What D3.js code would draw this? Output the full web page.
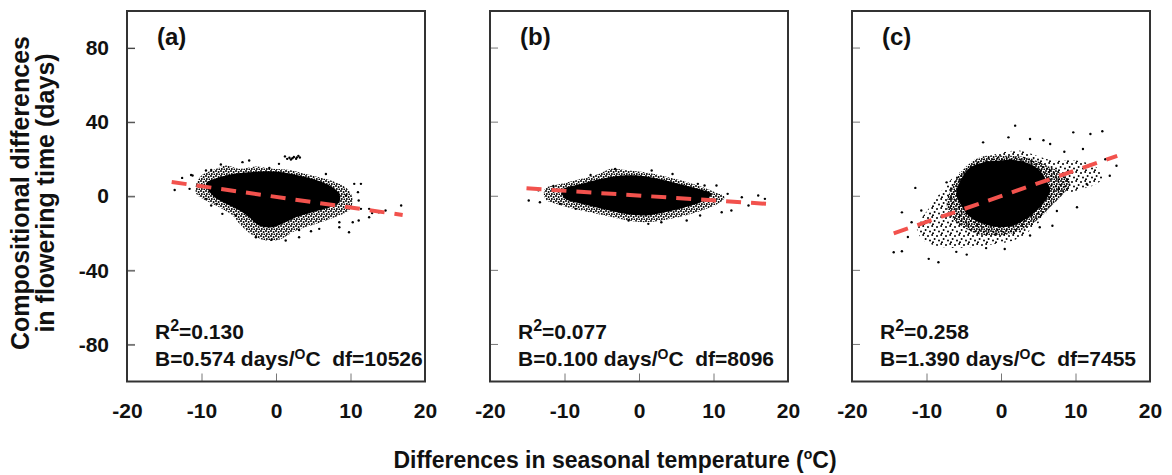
<!DOCTYPE html>
<html>
<head>
<meta charset="utf-8">
<script src="https://cdn.jsdelivr.net/npm/d3@7"></script>
<style>
  body { margin: 0; background: #fff; }
  text { font-family: "Liberation Sans", Arial, sans-serif; font-weight: bold; fill: #111; white-space: pre; }
</style>
</head>
<body>
<div id="chart"></div>
<script>
// three panels: flowering time difference vs seasonal temperature difference
var panelLabels = ["(a)", "(b)", "(c)"];
var r2Values = ["0.130", "0.077", "0.258"];
var slopeValues = ["0.574", "0.100", "1.390"];
var dfValues = ["10526", "8096", "7455"];
var xTicks = [-20, -10, 0, 10, 20];
var yTicks = [80, 40, 0, -40, -80];

// dashed regression lines, [x, y] end points
var fitA = [[-14, 7.7], [17, -10.1]];
var fitB = [[-15.1, 4.3], [17.1, -4.1]];
var fitC = [[-14.4, -20], [15.6, 21.8]];

// solid black core of each point cloud (outline)
var coreA = [[-9.4,6.7],[-7.6,10.2],[-5.8,12.0],[-3.6,12.9],[-1.3,13.5],[0.9,12.9],[3.1,11.2],[5.4,8.8],[7.2,5.8],[8.5,1.3],[8.5,-3.2],[7.2,-5.9],[4.9,-8.6],[2.7,-11.3],[1.3,-14.0],[-0.5,-16.7],[-2.3,-15.8],[-3.6,-11.3],[-4.9,-7.7],[-6.7,-4.1],[-8.5,0.4]];
var coreB = [[-10.4,3.1],[-7.7,6.7],[-5.0,9.4],[-2.3,11.2],[-0.1,11.2],[2.6,9.4],[5.3,6.7],[7.9,4.0],[9.7,1.3],[8.8,-2.3],[6.2,-5.9],[3.5,-8.6],[0.8,-10.4],[-1.9,-9.5],[-5.0,-6.8],[-7.7,-4.1],[-9.9,-1.4]];
var coreC = [[-6.0,1.3],[-5.2,10.2],[-4.1,15.6],[-2.3,18.3],[-0.1,19.3],[2.1,19.3],[3.9,17.4],[5.2,13.9],[6.1,8.5],[6.6,3.1],[6.1,-1.4],[4.8,-7.7],[3.4,-12.2],[1.7,-15.8],[-0.1,-16.7],[-2.3,-15.0],[-4.1,-11.3],[-5.2,-5.9]];

// dense speckled band around each core (outline)
var midA = [[-10.7,6.7],[-10.0,11.2],[-8.0,14.8],[-6.7,16.6],[-4.9,14.8],[-2.7,16.1],[-0.5,14.8],[1.8,14.2],[4.0,12.0],[6.7,9.3],[8.5,6.7],[9.8,3.1],[10.3,-2.3],[9.8,-7.7],[8.5,-10.4],[6.7,-13.1],[5.4,-14.9],[2.7,-18.5],[0.4,-23.5],[-1.3,-23.9],[-3.1,-21.2],[-4.9,-14.9],[-5.8,-10.4],[-7.6,-5.9],[-9.4,-2.3],[-10.7,1.3]];
var midB = [[-12.6,4.0],[-10.4,6.7],[-7.7,9.4],[-5.4,12.0],[-3.7,14.8],[-1.4,13.9],[0.8,13.0],[3.0,11.2],[5.7,8.5],[7.9,5.8],[10.2,2.2],[11.5,-0.5],[10.6,-4.1],[8.4,-7.7],[6.2,-10.4],[3.0,-13.1],[0.8,-14.0],[-1.4,-13.1],[-4.6,-10.4],[-7.7,-7.7],[-10.4,-5.0],[-12.6,-1.4]];
var midC = [[-7.3,-4.1],[-6.4,6.6],[-5.0,14.8],[-2.8,21.0],[0.3,21.9],[3.4,21.0],[5.7,17.4],[7.9,12.9],[9.3,7.5],[8.4,1.3],[6.6,-5.9],[4.8,-13.1],[2.6,-18.5],[-0.1,-21.2],[-3.2,-20.3],[-5.4,-15.8],[-6.8,-10.4]];

// sparse outer fringe of cloud (c)
var fringeC = [[-9.9,-7.7],[-8.6,-0.5],[-6.4,10.2],[-4.1,16.5],[-1.9,21.0],[0.3,23.7],[2.6,24.6],[4.8,21.9],[7.0,19.3],[10.2,19.3],[12.8,15.6],[13.7,10.2],[12.8,6.6],[10.2,3.1],[7.5,-0.5],[5.7,-11.3],[3.9,-18.5],[1.7,-23.9],[-0.6,-25.7],[-4.1,-27.5],[-7.7,-27.5],[-10.4,-23.9],[-11.3,-16.7]];

// isolated points outside the clouds
var pointsA = [[-13.6,3.4],[-12.6,9.9],[-11.4,11.5],[-11.6,4.0],[-7.4,17.1],[-8.7,14.2],[-0.9,15.3],[10.5,6.7],[11.4,6.7],[11.1,-2.3],[11.4,-6.8],[12.5,-11.3],[16.8,-5.0],[9.8,-19.4],[5.8,-17.6],[4.7,-18.9],[3.1,-18.2],[-2.7,-22.1],[-0.6,-23.5],[8.5,-14.0],[10.3,-14.0],[-5.4,-10.4],[-9.4,-1.4],[-8.7,-5.0],[12.9,-9.1],[11.1,-13.1],[12.5,-6.8],[-11.2,11.2],[-9.4,13.9],[-4.5,18.4],[-3.6,19.3],[0.4,17.5],[6.7,12.0],[9.4,0.4],[11.0,2.2],[13.8,-8.6],[14.7,-7.7],[8.5,-16.7],[3.1,-22.1],[1.3,-23.9],[-7.2,-9.5],[-8.0,-4.1],
  [1.2,21.5],[1.8,20.8],[2.4,21.2],[3.0,21.8],[2.0,19.8],[2.7,20.2],[1.5,20.2],[3.2,20.9],[2.2,20.5],[2.8,21.0]];
var pointsB = [[-14.8,-2.3],[-13.3,-3.2],[-13.5,3.2],[-10.6,-4.1],[-8.5,-6.8],[-3.2,14.8],[-1.4,-13.1],[1.25,-14.9],[3.0,-14.0],[6.4,-13.1],[7.9,6.7],[8.8,5.8],[10.4,5.8],[11.9,1.3],[12.4,-7.7],[13.8,-0.5],[16.0,0.4],[16.9,-1.4],[14.7,-5.0],[11.1,-8.6],[8.2,-10.4],[1.7,13.9],[-11.5,5.5],[-6.5,11.5],[4.5,12.0],[13.0,-3.0]];
var pointsC = [[-11.5,4.5],[-13.3,-8.7],[-14.4,-30.2],[-13.3,-29.7],[-9.7,-33.8],[-8.4,-35.6],[-4.6,-31.5],[1.9,38.1],[1.0,31.8],[-2.4,29.1],[3.9,30.9],[5.7,30.2],[6.6,28.2],[9.7,34.5],[12.0,33.6],[13.6,35.1],[15.5,16.5],[14.6,11.1],[11.5,6.6],[10.2,-5.9],[6.9,-15.9],[5.2,-16.7],[3.9,-21.2],[-7.3,7.5],[-10.7,-7.7],[-12.0,-14.0],[-6.0,-30.0],[-2.0,-28.0],[8.5,24.0],[11.0,25.5],[14.0,20.0],[-12.5,-22.0],[0.5,-28.5],[7.5,-8.0]];

var panels = [
  { core: coreA, mid: midA, fringe: null, pts: pointsA, fit: fitA },
  { core: coreB, mid: midB, fringe: null, pts: pointsB, fit: fitB },
  { core: coreC, mid: midC, fringe: fringeC, pts: pointsC, fit: fitC }
];

var W = 1172, H = 475;
var svg = d3.select("#chart").append("svg")
  .attr("width", W)
  .attr("height", H);

// dot textures standing in for overlapping points
var defs = svg.append("defs");
function dotPattern(id, size, spots) {
  var p = defs.append("pattern")
    .attr("id", id)
    .attr("patternUnits", "userSpaceOnUse")
    .attr("width", size).attr("height", size);
  spots.forEach(function (s) {
    p.append("circle").attr("cx", s[0]).attr("cy", s[1]).attr("r", 1).attr("fill", "#000");
  });
}
dotPattern("dense", 5, [[1, 1], [3.6, 2], [1.8, 3.9], [4.4, 4.4]]);
dotPattern("sparse", 9, [[1, 2], [5.2, 1], [7.6, 5], [3, 6.6], [6, 8.2]]);

var panelLeft = [127, 490, 852];
var pw = 298, plotTop = 11, ph = 370.5;

var yScale = d3.scaleLinear().domain([-100, 100]).range([plotTop + ph, plotTop]);

panels.forEach(function (p, i) {
  var x0 = panelLeft[i];
  var xScale = d3.scaleLinear().domain([-20, 20]).range([x0, x0 + pw]);
  var g = svg.append("g");

  var area = d3.line()
    .x(function (d) { return xScale(d[0]); })
    .y(function (d) { return yScale(d[1]); })
    .curve(d3.curveCatmullRomClosed);

  if (p.fringe) g.append("path").datum(p.fringe).attr("d", area).attr("fill", "url(#sparse)");
  g.append("path").datum(p.mid).attr("d", area).attr("fill", "url(#dense)");
  g.append("path").datum(p.core).attr("d", area).attr("fill", "#000");

  g.selectAll("circle.pt")
    .data(p.pts)
    .enter()
    .append("circle")
    .attr("class", "pt")
    .attr("cx", function (d) { return xScale(d[0]); })
    .attr("cy", function (d) { return yScale(d[1]); })
    .attr("r", 1.2)
    .attr("fill", "#000");

  // regression line
  g.append("line")
    .attr("x1", xScale(p.fit[0][0])).attr("y1", yScale(p.fit[0][1]))
    .attr("x2", xScale(p.fit[1][0])).attr("y2", yScale(p.fit[1][1]))
    .attr("stroke", "#f2524d")
    .attr("stroke-width", 4)
    .attr("stroke-dasharray", "15,10");

  // axes, ticks pointing inwards
  var xAxis = g.append("g")
    .attr("transform", "translate(0," + (plotTop + ph) + ")")
    .call(d3.axisBottom(xScale).tickValues(xTicks).tickFormat(function (d) { return String(d); })
      .tickSizeInner(-8).tickSizeOuter(0).tickPadding(22));
  xAxis.select(".domain").remove();
  xAxis.selectAll("line").attr("stroke", "#777");
  xAxis.selectAll("text").style("font-size", "21px").attr("fill", "#111");

  if (i === 0) {
    var yAxis = g.append("g")
      .attr("transform", "translate(" + x0 + ",0)")
      .call(d3.axisLeft(yScale).tickValues(yTicks).tickFormat(function (d) { return String(d); })
        .tickSizeInner(-8).tickSizeOuter(0).tickPadding(18));
    yAxis.select(".domain").remove();
    yAxis.selectAll("text").style("font-size", "21px").attr("fill", "#111");
  }
  // small inward ticks on the left of every panel
  g.selectAll("line.yt")
    .data(yTicks)
    .enter()
    .append("line")
    .attr("class", "yt")
    .attr("x1", x0).attr("x2", x0 + 8)
    .attr("y1", function (d) { return yScale(d); })
    .attr("y2", function (d) { return yScale(d); })
    .attr("stroke", "#777");

  g.append("rect")
    .attr("x", x0).attr("y", plotTop)
    .attr("width", pw).attr("height", ph)
    .attr("fill", "none")
    .attr("stroke", "#333")
    .attr("stroke-width", 2);

  g.append("text")
    .attr("x", x0 + 30).attr("y", 45)
    .style("font-size", "24px")
    .text(panelLabels[i]);

  var r2 = g.append("text")
    .attr("x", x0 + 28).attr("y", 339)
    .style("font-size", "21px");
  r2.append("tspan").text("R");
  r2.append("tspan").attr("dy", -8).style("font-size", "16px").text("2");
  r2.append("tspan").attr("dy", 8).text("=" + r2Values[i]);

  var bt = g.append("text")
    .attr("x", x0 + 28).attr("y", 366)
    .style("font-size", "21px");
  bt.append("tspan").text("B=" + slopeValues[i] + " days/");
  bt.append("tspan").attr("dy", -7).style("font-size", "14px").text("O");
  bt.append("tspan").attr("dy", 7).text("C  df=" + dfValues[i]);
});

// axis titles
var yt = svg.append("text")
  .attr("transform", "translate(29,193) rotate(-90)")
  .attr("text-anchor", "middle")
  .style("font-size", "25px");
yt.append("tspan").attr("x", 0).attr("y", 0).text("Compositional differences");
yt.append("tspan").attr("x", 0).attr("y", 25).text("in flowering time (days)");

var xt = svg.append("text")
  .attr("x", 615).attr("y", 468)
  .attr("text-anchor", "middle")
  .style("font-size", "23px");
xt.append("tspan").text("Differences in seasonal temperature (");
xt.append("tspan").attr("dy", -9).style("font-size", "14px").text("o");
xt.append("tspan").attr("dy", 9).text("C)");
</script>
</body>
</html>
